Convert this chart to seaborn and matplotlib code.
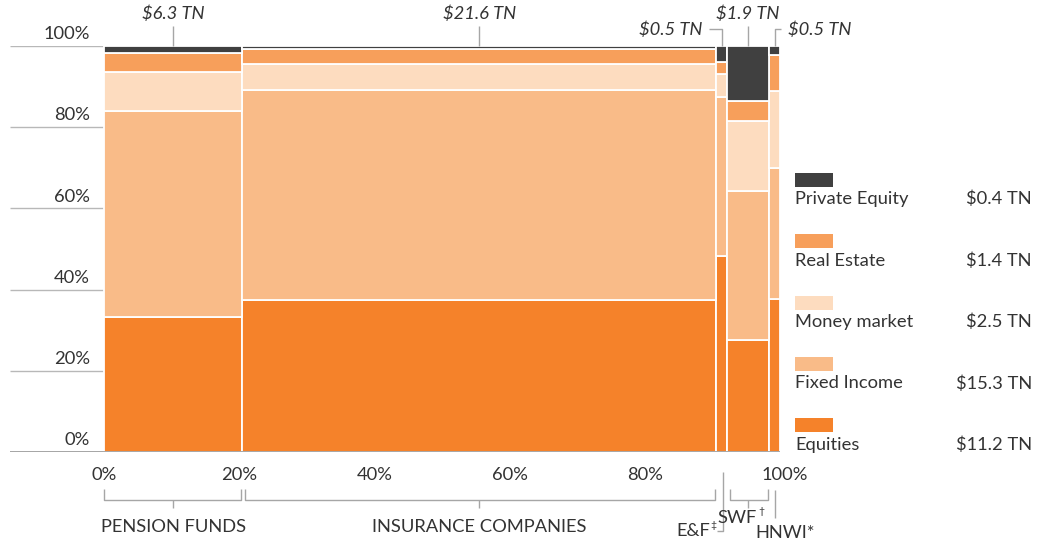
import matplotlib
matplotlib.use("Agg")
import matplotlib.pyplot as plt
import seaborn as sns
import numpy as np
from matplotlib.patches import Rectangle

# ---------------- data ----------------
investors = ["PENSION FUNDS", "INSURANCE COMPANIES", "E&F", "SWF", "HNWI*"]
investor_marks = ["", "", "\u2021", "\u2020", ""]
investor_totals = [6.3, 21.6, 0.5, 1.9, 0.5]
investor_total_labels = ["$6.3 TN", "$21.6 TN", "$0.5 TN", "$1.9 TN", "$0.5 TN"]

asset_classes = ["Equities", "Fixed Income", "Money market", "Real Estate", "Private Equity"]
equities = [33.3, 37.4, 48.3, 27.6, 37.8]
fixed_income = [50.7, 51.8, 39.1, 36.6, 32.1]
money_market = [9.6, 6.4, 5.7, 17.3, 19.1]
real_estate = [4.7, 3.7, 3.0, 5.0, 8.8]
private_equity = [1.7, 0.7, 3.9, 13.5, 2.2]
asset_total_labels = ["$11.2 TN", "$15.3 TN", "$2.5 TN", "$1.4 TN", "$0.4 TN"]

x_ticks = [0, 20, 40, 60, 80, 100]
y_ticks = [0, 20, 40, 60, 80, 100]

# ---------------- style ----------------
sns.set_theme(style="white")
plt.rcParams["font.family"] = ["Lato", "DejaVu Sans"]
TXT = "#333333"
LINE = "#a6a6a6"
colors = {
    "Equities": "#F5822A",
    "Fixed Income": "#F9BB88",
    "Money market": "#FDDCBF",
    "Real Estate": "#F79F5B",
    "Private Equity": "#404040",
}
FS = 13.2

W, H = 1048, 544
fig = plt.figure(figsize=(W / 100, H / 100), dpi=100)
ax = fig.add_axes([10 / W, (H - 452) / H, 770 / W, 406 / H])
XMIN = -13.9
ax.set_xlim(XMIN, 100)
ax.set_ylim(0, 100)
ax.axis("off")

def dx(px):
    return (px - 104) / 6.76

def dy(py):
    return (452 - py) / 4.06

total = sum(investor_totals)
widths = np.array(investor_totals) / total * 100
lefts = np.concatenate([[0], np.cumsum(widths)[:-1]])
rights = lefts + widths
centers = lefts + widths / 2

# gridlines and y labels
for t in y_ticks:
    ax.plot([XMIN, 100], [t, t], color="#b8b8b8", lw=1, zorder=1, solid_capstyle="butt")
    ax.text(dx(90), t + 2.9, f"{t}%", ha="right", va="center", fontsize=FS, color=TXT)

# bars (mosaic)
series = [equities, fixed_income, money_market, real_estate, private_equity]
bottom = np.zeros(len(investors))
for name, vals in zip(asset_classes, series):
    ax.bar(lefts, vals, width=widths, bottom=bottom, align="edge",
           color=colors[name], edgecolor="white", linewidth=1.3, zorder=2)
    bottom = bottom + np.array(vals)

ax.plot([XMIN, 100], [0, 0], color="#999999", lw=1.2, zorder=3)

# x tick labels
for t in x_ticks:
    ax.text(t + (0.7 if t == 100 else 0), dy(475), f"{t}%", ha="center", va="center",
            fontsize=FS, color=TXT, clip_on=False)

lkw = dict(color=LINE, lw=1, clip_on=False, solid_capstyle="butt")
tkw = dict(fontsize=FS, color=TXT, clip_on=False)

# top total annotations
for i in [0, 1, 3]:
    ax.plot([centers[i], centers[i]], [100, dy(26)], **lkw)
    ax.text(centers[i], dy(14), investor_total_labels[i], ha="center", va="center",
            style="italic", **tkw)
# E&F
ax.plot([centers[2], centers[2], dx(709)], [100, dy(29), dy(29)], **lkw)
ax.text(dx(702), dy(30), investor_total_labels[2], ha="right", va="center",
        style="italic", **tkw)
# HNWI
ax.plot([centers[4], centers[4], dx(781)], [100, dy(29), dy(29)], **lkw)
ax.text(dx(788), dy(30), investor_total_labels[4], ha="left", va="center",
        style="italic", **tkw)

# bottom brackets
btop, bbot, bmid = dy(489), dy(500), dy(508)
for i in [0, 1, 3]:
    l = lefts[i] + (0.0 if i == 0 else 0.35)
    r = rights[i] - 0.2
    ax.plot([l, l, r, r], [btop, bbot, bbot, btop], **lkw)
    ax.plot([centers[i], centers[i]], [bbot, bmid], **lkw)
ax.text(centers[0], dy(527), investors[0], ha="center", va="center", **tkw)
ax.text(centers[1], dy(527), investors[1], ha="center", va="center", **tkw)
# SWF with superscript
ax.text(dx(757), dy(518), investors[3], ha="right", va="center", **tkw)
ax.text(dx(758), dy(512), investor_marks[3], ha="left", va="center",
        fontsize=7.5, color=TXT, clip_on=False)
# E&F with superscript
ax.plot([dx(723), dx(723), dx(717)], [dy(472), dy(531), dy(531)], **lkw)
ax.text(dx(710), dy(531), investors[2], ha="right", va="center", **tkw)
ax.text(dx(710.5), dy(525), investor_marks[2], ha="left", va="center",
        fontsize=7.5, color=TXT, clip_on=False)
# HNWI
ax.plot([dx(775), dx(775)], [dy(490), dy(518)], **lkw)
ax.text(dx(785), dy(533), investors[4], ha="center", va="center", **tkw)

# legend (top to bottom: Private Equity ... Equities)
leg_order = list(range(len(asset_classes)))[::-1]
for row, k in enumerate(leg_order):
    name = asset_classes[k]
    top = 173 + 61.3 * row
    fig.add_artist(Rectangle((795 / W, 1 - (top + 14) / H), 38 / W, 14 / H,
                             transform=fig.transFigure, color=colors[name], lw=0))
    ycen = 1 - (199 + 61.5 * row) / H
    fig.text(795 / W, ycen, name, ha="left", va="center", fontsize=FS, color=TXT)
    fig.text(1032 / W, ycen, asset_total_labels[k], ha="right", va="center", fontsize=FS, color=TXT)

fig.savefig("out.png", dpi=100, facecolor="white")
